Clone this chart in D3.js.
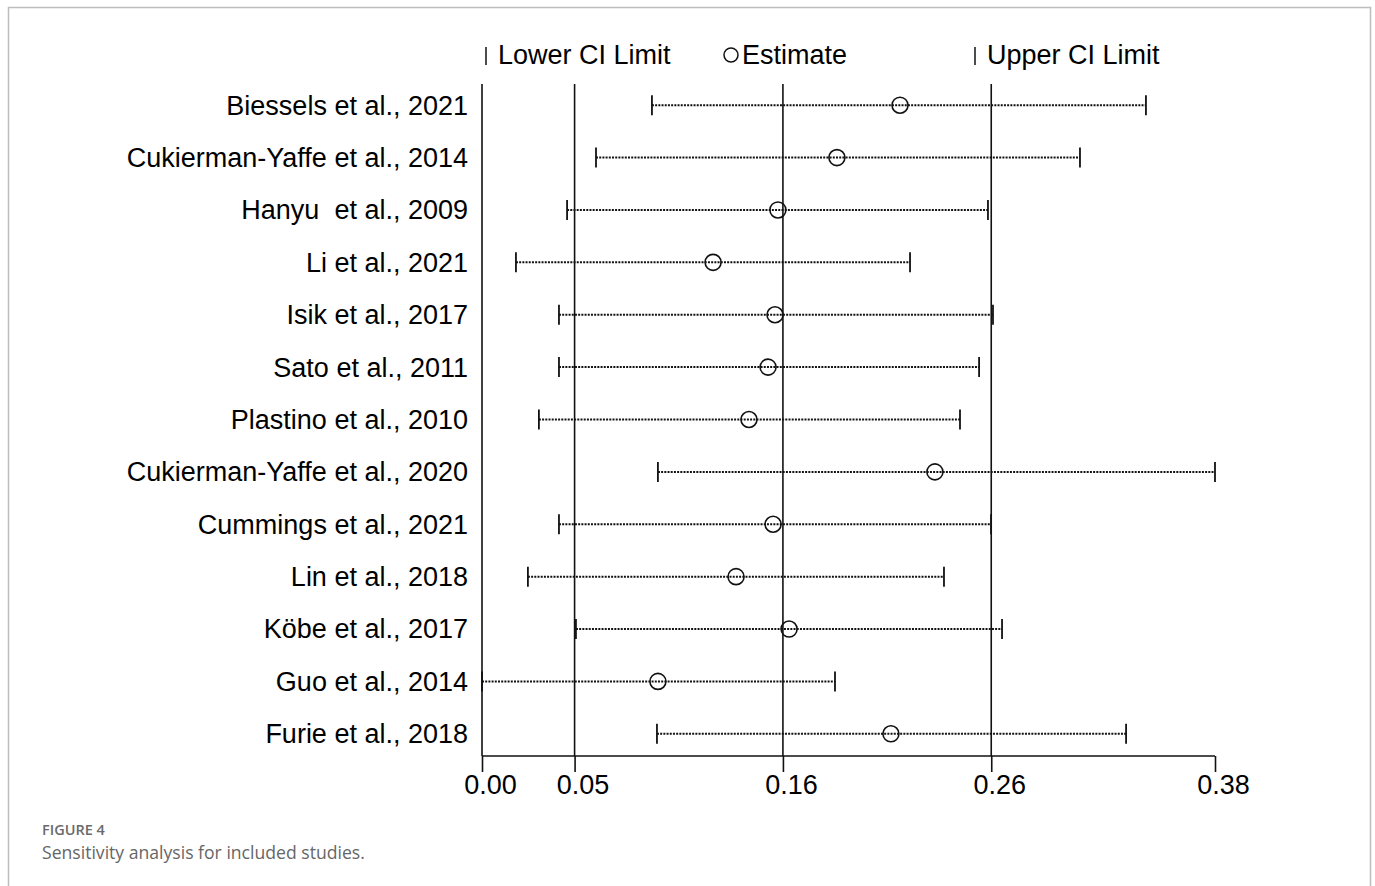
<!DOCTYPE html>
<html>
<head>
<meta charset="utf-8">
<script src="https://cdn.jsdelivr.net/npm/d3@7"></script>
<style>
  body { margin: 0; background: #ffffff; }
  svg { display: block; }
</style>
</head>
<body>
<svg id="chart"></svg>
<script>
'use strict';

// study names, top to bottom
const studies = [
    "Biessels et al., 2021",
    "Cukierman-Yaffe et al., 2014",
    "Hanyu  et al., 2009",
    "Li et al., 2021",
    "Isik et al., 2017",
    "Sato et al., 2011",
    "Plastino et al., 2010",
    "Cukierman-Yaffe et al., 2020",
    "Cummings et al., 2021",
    "Lin et al., 2018",
    "Köbe et al., 2017",
    "Guo et al., 2014",
    "Furie et al., 2018"
];

// pooled estimate with each study omitted
const estimates = [0.2167, 0.1840, 0.1534, 0.1198, 0.1519, 0.1483, 0.1384, 0.2348, 0.1509, 0.1317, 0.1592, 0.0912, 0.2120];
const lowerCI   = [0.0881, 0.0591, 0.0441, 0.0176, 0.0399, 0.0399, 0.0295, 0.0912, 0.0399, 0.0238, 0.0487, 0.0000, 0.0907];
const upperCI   = [0.3442, 0.3100, 0.2623, 0.2219, 0.2649, 0.2577, 0.2478, 0.3800, 0.2639, 0.2395, 0.2696, 0.1830, 0.3339];

// axis ticks: min, overall lower CI, overall estimate, overall upper CI, max
const tickValues = [0.000, 0.048, 0.156, 0.264, 0.380];
const refLines = [0.000, 0.048, 0.156, 0.264];

const width = 1375, height = 886;
const fontMain = "'Liberation Sans', Arial, sans-serif";

const svg = d3.select("#chart")
    .attr("width", width)
    .attr("height", height);

// outer frame (no bottom edge)
svg.append("path")
    .attr("d", "M8.5,886 V7.5 H1370.5 V886")
    .attr("fill", "none")
    .attr("stroke", "#bdbdbd")
    .attr("stroke-width", 1.5);

const x = d3.scaleLinear()
    .domain([0, 0.38])
    .range([482, 1215]);

const y = d3.scaleBand()
    .domain(studies)
    .range([79, 760])
    .padding(0);

const yc = (name) => y(name) + y.bandwidth() / 2;

const axisY = 756;

// vertical reference lines
svg.append("g").selectAll("line")
    .data(refLines)
    .enter()
    .append("line")
    .attr("x1", (d) => x(d))
    .attr("x2", (d) => x(d))
    .attr("y1", 84)
    .attr("y2", axisY)
    .attr("stroke", "#111")
    .attr("stroke-width", 1.6);

// x axis
const xAxis = d3.axisBottom(x)
    .tickValues(tickValues)
    .tickFormat(d3.format(".2f"))
    .tickSize(16)
    .tickPadding(6);

const axisG = svg.append("g")
    .attr("transform", `translate(0,${axisY})`)
    .call(xAxis);

axisG.select(".domain")
    .attr("d", `M${x(0)},0H${x(0.38)}`)
    .attr("stroke", "#111")
    .attr("stroke-width", 1.6);

axisG.selectAll(".tick line")
    .attr("stroke", "#111")
    .attr("stroke-width", 1.6);

axisG.selectAll(".tick text")
    .attr("font-family", fontMain)
    .attr("font-size", 27)
    .attr("fill", "#000")
    .attr("dx", 8)
    .attr("dy", "0.6em");

// study labels
svg.append("g").selectAll("text")
    .data(studies)
    .enter()
    .append("text")
    .attr("x", 468)
    .attr("y", (d) => yc(d))
    .attr("dy", "0.35em")
    .attr("text-anchor", "end")
    .attr("font-family", fontMain)
    .attr("font-size", 27)
    .attr("fill", "#000")
    .style("white-space", "pre")
    .text((d) => d);

// rows
const rows = svg.append("g").selectAll("g")
    .data(studies)
    .enter()
    .append("g");

rows.append("line")
    .attr("x1", (d, i) => x(lowerCI[i]))
    .attr("x2", (d, i) => x(upperCI[i]))
    .attr("y1", (d) => yc(d))
    .attr("y2", (d) => yc(d))
    .attr("stroke", "#111")
    .attr("stroke-width", 2)
    .attr("stroke-dasharray", "2,1.2");

rows.append("line")
    .attr("x1", (d, i) => x(lowerCI[i]))
    .attr("x2", (d, i) => x(lowerCI[i]))
    .attr("y1", (d) => yc(d) - 10)
    .attr("y2", (d) => yc(d) + 10)
    .attr("stroke", "#111")
    .attr("stroke-width", 1.8);

rows.append("line")
    .attr("x1", (d, i) => x(upperCI[i]))
    .attr("x2", (d, i) => x(upperCI[i]))
    .attr("y1", (d) => yc(d) - 10)
    .attr("y2", (d) => yc(d) + 10)
    .attr("stroke", "#111")
    .attr("stroke-width", 1.8);

rows.append("circle")
    .attr("cx", (d, i) => x(estimates[i]))
    .attr("cy", (d) => yc(d))
    .attr("r", 8)
    .attr("fill", "none")
    .attr("stroke", "#111")
    .attr("stroke-width", 1.6);

// legend
const legend = svg.append("g");
const legendY = 55;

legend.append("line")
    .attr("x1", 486).attr("x2", 486)
    .attr("y1", legendY - 8).attr("y2", legendY + 10)
    .attr("stroke", "#111").attr("stroke-width", 1.5);
legend.append("text")
    .attr("x", 498).attr("y", legendY)
    .attr("dy", "0.35em")
    .attr("font-family", fontMain).attr("font-size", 27)
    .text("Lower CI Limit");

legend.append("circle")
    .attr("cx", 731).attr("cy", legendY)
    .attr("r", 7)
    .attr("fill", "none")
    .attr("stroke", "#111").attr("stroke-width", 1.5);
legend.append("text")
    .attr("x", 742).attr("y", legendY)
    .attr("dy", "0.35em")
    .attr("font-family", fontMain).attr("font-size", 27)
    .text("Estimate");

legend.append("line")
    .attr("x1", 975).attr("x2", 975)
    .attr("y1", legendY - 8).attr("y2", legendY + 10)
    .attr("stroke", "#111").attr("stroke-width", 1.5);
legend.append("text")
    .attr("x", 987).attr("y", legendY)
    .attr("dy", "0.35em")
    .attr("font-family", fontMain).attr("font-size", 27)
    .text("Upper CI Limit");

// caption
svg.append("text")
    .attr("x", 42).attr("y", 835)
    .attr("font-family", "'Open Sans', sans-serif")
    .attr("font-size", 14.5)
    .attr("font-weight", 600)
    .attr("fill", "#6a6a6a")
    .text("FIGURE 4");

svg.append("text")
    .attr("x", 42).attr("y", 859)
    .attr("font-family", "'Open Sans', sans-serif")
    .attr("font-size", 17.6)
    .attr("fill", "#666")
    .text("Sensitivity analysis for included studies.");
</script>
</body>
</html>
